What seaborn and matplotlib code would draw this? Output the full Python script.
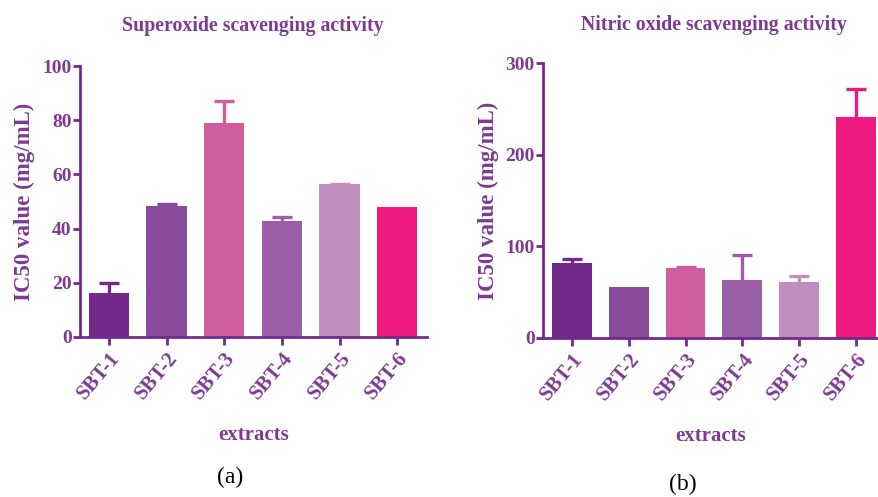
import numpy as np
import pandas as pd
import seaborn as sns
import matplotlib
matplotlib.use("Agg")
import matplotlib.pyplot as plt

# Extracts and IC50 values (mg/mL), mean and upper SD
extracts = ["SBT-1", "SBT-2", "SBT-3", "SBT-4", "SBT-5", "SBT-6"]
superoxide_ic50 = [16.3, 48.5, 79.1, 42.9, 56.3, 48.1]
superoxide_sd = [3.7, 0.5, 7.9, 1.5, 0.3, 0.0]
nitric_ic50 = [81.3, 55.7, 75.8, 63.4, 60.5, 241.5]
nitric_sd = [4.4, 0.0, 1.8, 26.6, 7.3, 30.3]
bar_colors = ["#722a8b", "#8a4a9a", "#d05e9f", "#9a5fa7", "#c08fc0", "#ee1a80"]

sns.set_theme(style="ticks")
plt.rcParams["font.family"] = ["Liberation Serif", "DejaVu Serif"]

axis_color = "#74298c"
text_color = "#7d3a93"

W, H = 879, 497
fig = plt.figure(figsize=(W / 100, H / 100), dpi=100)
ax_a = fig.add_axes([0.091, 0.322, 0.395, 0.545])
ax_b = fig.add_axes([0.618, 0.3205, 0.382, 0.552])


def draw_panel(ax, values, sd, ymax, step, xlim):
    df = pd.DataFrame({"extract": extracts, "ic50": values})
    sns.barplot(data=df, x="extract", y="ic50", hue="extract",
                palette=bar_colors, legend=False, width=0.70,
                saturation=1, ax=ax, linewidth=0)
    for i, (v, e) in enumerate(zip(values, sd)):
        if e > 0:
            _, caps, _ = ax.errorbar(i, v, yerr=[[0], [e]], fmt="none",
                                     ecolor=bar_colors[i], elinewidth=2.4,
                                     capsize=7.2, capthick=2.4, zorder=1)
            # only the upper cap is shown
            caps[0].set_visible(False)
    ax.set_ylim(0, ymax)
    ax.set_xlim(*xlim)
    ax.set_yticks(np.arange(0, ymax + 1, step))
    sns.despine(ax=ax)
    for side in ("left", "bottom"):
        ax.spines[side].set_color(axis_color)
        ax.spines[side].set_linewidth(2.0)
    ax.tick_params(axis="y", colors=axis_color, length=5, width=2,
                   labelcolor=text_color, labelsize=14, pad=1)
    ax.tick_params(axis="x", colors=axis_color, length=6, width=2,
                   labelcolor=text_color, labelsize=15, pad=2)
    for lab in ax.get_yticklabels():
        lab.set_fontweight("bold")
    for lab in ax.get_xticklabels():
        lab.set_fontweight("bold")
        lab.set_rotation(50)
        lab.set_ha("right")
        lab.set_rotation_mode("anchor")
    ax.set_ylabel("IC50 value (mg/mL)", color=text_color, fontsize=16.5,
                  fontweight="bold", labelpad=5)
    ax.set_xlabel("extracts", color=text_color, fontsize=15,
                  fontweight="bold", labelpad=16)


draw_panel(ax_a, superoxide_ic50, superoxide_sd, 100, 20, (-0.5, 5.52))
draw_panel(ax_b, nitric_ic50, nitric_sd, 300, 100, (-0.51, 5.41))

# panel titles
fig.text(253 / W, 1 - 26 / H, "Superoxide scavenging activity",
         ha="center", va="center", fontsize=14.3, fontweight="bold",
         color=text_color)
fig.text(714 / W, 1 - 25 / H, "Nitric oxide scavenging activity",
         ha="center", va="center", fontsize=14.3, fontweight="bold",
         color=text_color)

fig.text(0.262, 0.04, "(a)", ha="center", va="center", fontsize=17,
         color="black")
fig.text(0.777, 0.025, "(b)", ha="center", va="center", fontsize=17,
         color="black")

fig.savefig("out.png", dpi=100, facecolor="white")
